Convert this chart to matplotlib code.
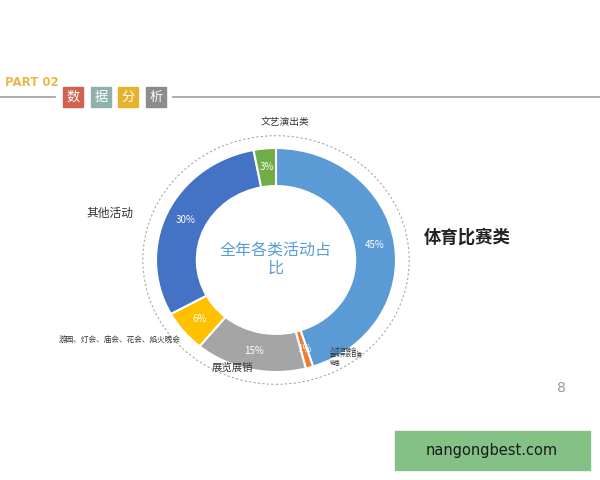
import matplotlib
matplotlib.use("Agg")
import matplotlib.pyplot as plt
from matplotlib.patches import Rectangle, Ellipse
import numpy as np

plt.rcParams['font.family'] = ['Noto Sans CJK SC', 'DejaVu Sans']

categories = ["体育比赛类", "人才招聘会、\n宣传开放日赛\n销售", "展览展销",
              "游园、灯会、庙会、花会、焰火晚会", "其他活动", "文艺演出类"]
values = [45, 1, 15, 6, 30, 3]
colors = ["#5b9bd5", "#ed7d31", "#a5a5a5", "#ffc000", "#4472c4", "#70ad47"]
pct_labels = ["45%", "1%", "15%", "6%", "30%", "3%"]

header_chars = ["数", "据", "分", "析"]
header_colors = ["#d0634f", "#8fb0ad", "#e6b42c", "#8c8c8c"]

W, H = 600, 480
fig = plt.figure(figsize=(6, 4.8), dpi=100)
fig.patch.set_facecolor("white")

def fx(x):
    return x / W

def fy(y):
    return 1 - y / H

# header
fig.text(fx(5), fy(82), "PART 02", color="#e8b84a", fontsize=8.5, fontweight="bold",
         va="center", ha="left", family="DejaVu Sans")
fig.add_artist(plt.Line2D([0, fx(55)], [fy(97), fy(97)], color="#a0a0a0", lw=1.2))
fig.add_artist(plt.Line2D([fx(173), 1], [fy(97), fy(97)], color="#a0a0a0", lw=1.2))
xs = [63, 91, 118, 146]
for x0, ch, c in zip(xs, header_chars, header_colors):
    fig.add_artist(Rectangle((fx(x0), fy(107)), 20 / W, 20 / H, color=c,
                             transform=fig.transFigure))
    fig.text(fx(x0 + 10), fy(97), ch, color="white", fontsize=9.5, ha="center",
             va="center")

# donut (slightly stretched horizontally like the reference)
cx, cy, Rx, Ry = 276, 260, 120, 112
lim = 1.25
ax = fig.add_axes([fx(cx - lim * Rx), fy(cy + lim * Ry), 2 * lim * Rx / W, 2 * lim * Ry / H])
wedges, texts = ax.pie(values, colors=colors, startangle=90, counterclock=False,
                       radius=1, wedgeprops=dict(width=0.34, edgecolor="white", linewidth=1.5))
ax.set_aspect("auto")
ax.set_xlim(-lim, lim)
ax.set_ylim(-lim, lim)
ax.axis("off")
start = 90.0
for v, lab in zip(values, pct_labels):
    mid = np.deg2rad(start - v * 3.6 / 2)
    start -= v * 3.6
    ax.text(0.83 * np.cos(mid), 0.83 * np.sin(mid), lab, color="white",
            fontsize=7, ha="center", va="center")
ax.add_patch(Ellipse((0, 0), 2.22, 2.22, fill=False, ls=(0, (2, 2)), color="#a8a8a8", lw=0.8))
ax.text(0, 0, "全年各类活动占\n比", color="#5b9bd5", fontsize=11.5, ha="center",
        va="center", linespacing=1.0)

# category labels
fig.text(fx(467), fy(238), categories[0], fontsize=12.5, fontweight="bold",
         color="#222222", ha="center", va="center")
fig.text(fx(330), fy(356), categories[1], fontsize=4, color="#333333",
         ha="left", va="center", linespacing=1.2)
fig.text(fx(232), fy(368), categories[2], fontsize=7.5, color="#333333",
         ha="center", va="center")
fig.text(fx(120), fy(340), categories[3], fontsize=5.5, color="#333333",
         ha="center", va="center")
fig.text(fx(110), fy(213), categories[4], fontsize=8.5, color="#333333",
         ha="center", va="center")
fig.text(fx(285), fy(122), categories[5], fontsize=7, color="#333333",
         ha="center", va="center")

# page number
fig.text(fx(561), fy(388), "8", fontsize=10, color="#999999", ha="center", va="center",
         family="DejaVu Sans")

# watermark box
fig.add_artist(Rectangle((fx(395), fy(470)), 195 / W, 39 / H, color="#83c187",
                         transform=fig.transFigure))
fig.text(fx(492), fy(450), "nangongbest.com", fontsize=10.5, color="#1a1a1a",
         ha="center", va="center", family="DejaVu Sans")

fig.savefig("out.png", dpi=100)
